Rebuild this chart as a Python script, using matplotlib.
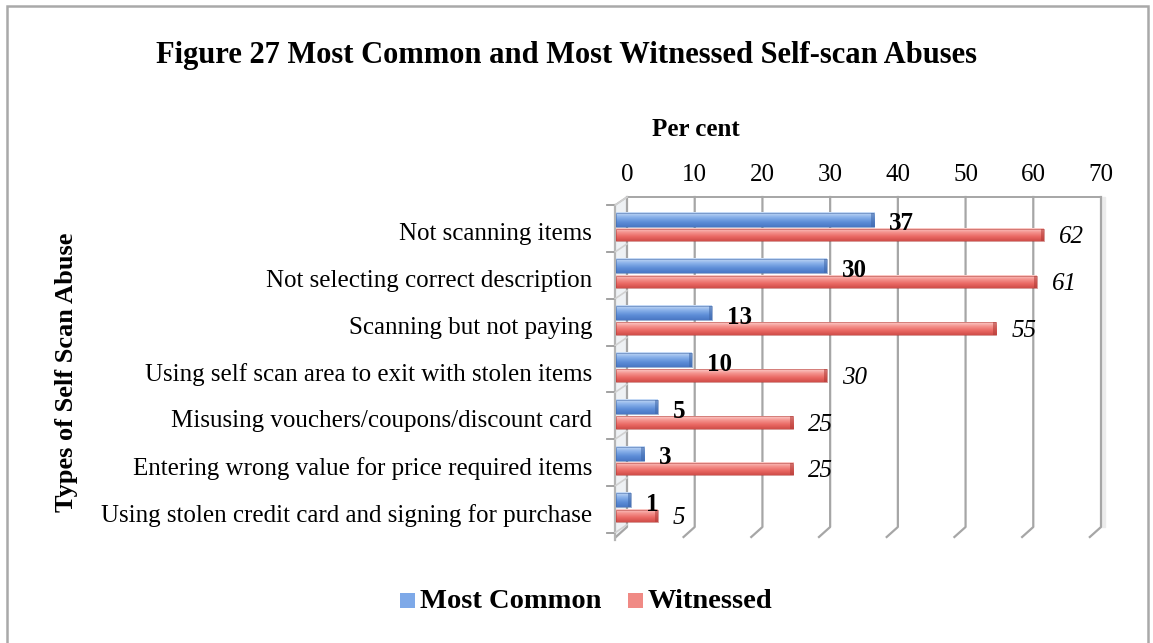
import numpy as np
import matplotlib
matplotlib.use("Agg")
import matplotlib.pyplot as plt
from matplotlib.patches import Rectangle, Polygon
from matplotlib.colors import LinearSegmentedColormap

# data
categories = [
    "Not scanning items",
    "Not selecting correct description",
    "Scanning but not paying",
    "Using self scan area to exit with stolen items",
    "Misusing vouchers/coupons/discount card",
    "Entering wrong value for price required items",
    "Using stolen credit card and signing for purchase",
]
most_common = [37, 30, 13, 10, 5, 3, 1]
witnessed = [62, 61, 55, 30, 25, 25, 5]
x_ticks = [0, 10, 20, 30, 40, 50, 60, 70]

title = "Figure 27 Most Common and Most Witnessed Self-scan Abuses"
x_title = "Per cent"
y_title = "Types of Self Scan Abuse"

W, H = 1153, 643
FONT = "Liberation Serif"
plt.rcParams["font.family"] = [FONT, "DejaVu Serif"]


def fx(px):
    return px / W


def fy(py):
    return 1 - py / H


fig = plt.figure(figsize=(W / 100, H / 100), dpi=100)

# outer chart border
fig.patches.append(Rectangle((fx(7), fy(650)), fx(1148) - fx(7), fy(6) - fy(650),
                             transform=fig.transFigure, fill=False,
                             edgecolor="#a9a9a9", linewidth=1.8))

# back wall of the pseudo-3D plot: x 0..70 between px 627 and 1101
ax = fig.add_axes([fx(627), fy(540), fx(1101) - fx(627), fy(197) - fy(540)])
row_px = 46.8
y_top = (197 - 228.5) / row_px
y_bot = (540 - 228.5) / row_px
y_wall = (527 - 228.5) / row_px
y_floor = (537 - 228.5) / row_px
depth_x = 1.65          # horizontal depth offset in value units
depth_y = 8 / row_px    # vertical depth offset in row units

grid_col = "#a6a6a6"
for t in x_ticks:
    ax.plot([t, t, t - depth_x], [y_top, y_wall, y_floor], color=grid_col,
            lw=1.6, clip_on=False, zorder=1)
ax.plot([0, 70], [y_top, y_top], color=grid_col, lw=1.4, clip_on=False, zorder=1)
# side strip right of 70
ax.add_patch(Rectangle((70, y_top), 0.6, y_wall - y_top, color="#ececec",
                       clip_on=False, zorder=0))

# left wall
wall_x = -1.75
ax.add_patch(Polygon([[wall_x, y_top + depth_y], [0, y_top], [0, y_wall],
                      [wall_x, y_bot]], closed=True, facecolor="#eef1f4",
                     edgecolor="none", clip_on=False, zorder=0))
ax.plot([wall_x, wall_x], [y_top + depth_y, y_bot], color="#b5b5b5", lw=1.6,
        clip_on=False, zorder=1)
ax.plot([wall_x, 0], [y_top + depth_y, y_top], color="#b5b5b5", lw=1.2,
        clip_on=False, zorder=1)
n = len(categories)
for k in range(n + 1):
    b = k - 0.5
    ax.plot([wall_x - 1.2, wall_x], [b, b], color="#9a9a9a", lw=1.3,
            clip_on=False, zorder=1)
    ax.plot([wall_x, 0], [b, b - depth_y], color="#d0d0d0", lw=1.2,
            clip_on=False, zorder=1)

blue_cmap = LinearSegmentedColormap.from_list(
    "b", ["#c9dcf6", "#8ab2ea", "#5e8ed8", "#4a78c4"])
red_cmap = LinearSegmentedColormap.from_list(
    "r", ["#fcccc8", "#f4918c", "#ea6863", "#d04e4a"])
grad = np.linspace(0, 1, 32).reshape(-1, 1)

bar_base = -1.6
tip_shift = -0.45
series = [
    (most_common, -0.19, 0.30, blue_cmap, "#3f67a8", "bold", "normal", 0.09),
    (witnessed, 0.14, 0.27, red_cmap, "#b03a36", "normal", "italic", 0.05),
]
for vals, off, h, cmap, edge, weight, style, loff in series:
    for i, v in enumerate(vals):
        yc = i + off
        x1 = v + tip_shift
        ax.imshow(grad, extent=(bar_base, x1, yc + h / 2, yc - h / 2),
                  aspect="auto", cmap=cmap, origin="upper", zorder=3,
                  clip_on=False, interpolation="bilinear")
        ax.add_patch(Rectangle((bar_base, yc - h / 2), x1 - bar_base, h,
                               fill=False, edgecolor=edge, lw=0.6, alpha=0.6,
                               zorder=4, clip_on=False))
        ax.add_patch(Rectangle((x1 - 0.45, yc - h / 2), 0.45, h,
                               facecolor=edge, alpha=0.55, edgecolor="none",
                               zorder=4, clip_on=False))
        ax.text(v + 1.75, yc + loff, str(v), fontsize=18, fontweight=weight,
                fontstyle=style, va="center", ha="left", zorder=5)

ax.set_xlim(0, 70)
ax.set_ylim(y_bot, y_top)
ax.xaxis.tick_top()
ax.set_xticks(x_ticks)
ax.set_xticklabels([str(t) for t in x_ticks], fontsize=18)
ax.set_yticks(np.arange(n) + 0.07)
ax.set_yticklabels(categories, fontsize=18)
ax.tick_params(axis="x", length=0, pad=8)
ax.tick_params(axis="y", length=0, pad=25)
for s in ax.spines.values():
    s.set_visible(False)
ax.patch.set_visible(False)

fig.text(fx(566), fy(55), title, fontsize=22, fontweight="bold",
         ha="center", va="center")
fig.text(fx(696), fy(130), x_title, fontsize=18, fontweight="bold",
         ha="center", va="center")
fig.text(fx(67), fy(372), y_title, fontsize=19, fontweight="bold",
         rotation=90, ha="center", va="center")

# legend
for x0, col, label in [(400, "#7ea9e8", "Most Common"), (628, "#f08a85", "Witnessed")]:
    fig.patches.append(Rectangle((fx(x0), fy(608)), fx(15), 15 / H,
                                 transform=fig.transFigure, facecolor=col,
                                 edgecolor="none"))
    fig.text(fx(x0 + 20), fy(601), label, fontsize=20.5, fontweight="bold",
             ha="left", va="center")

fig.savefig("out.png", dpi=100)
